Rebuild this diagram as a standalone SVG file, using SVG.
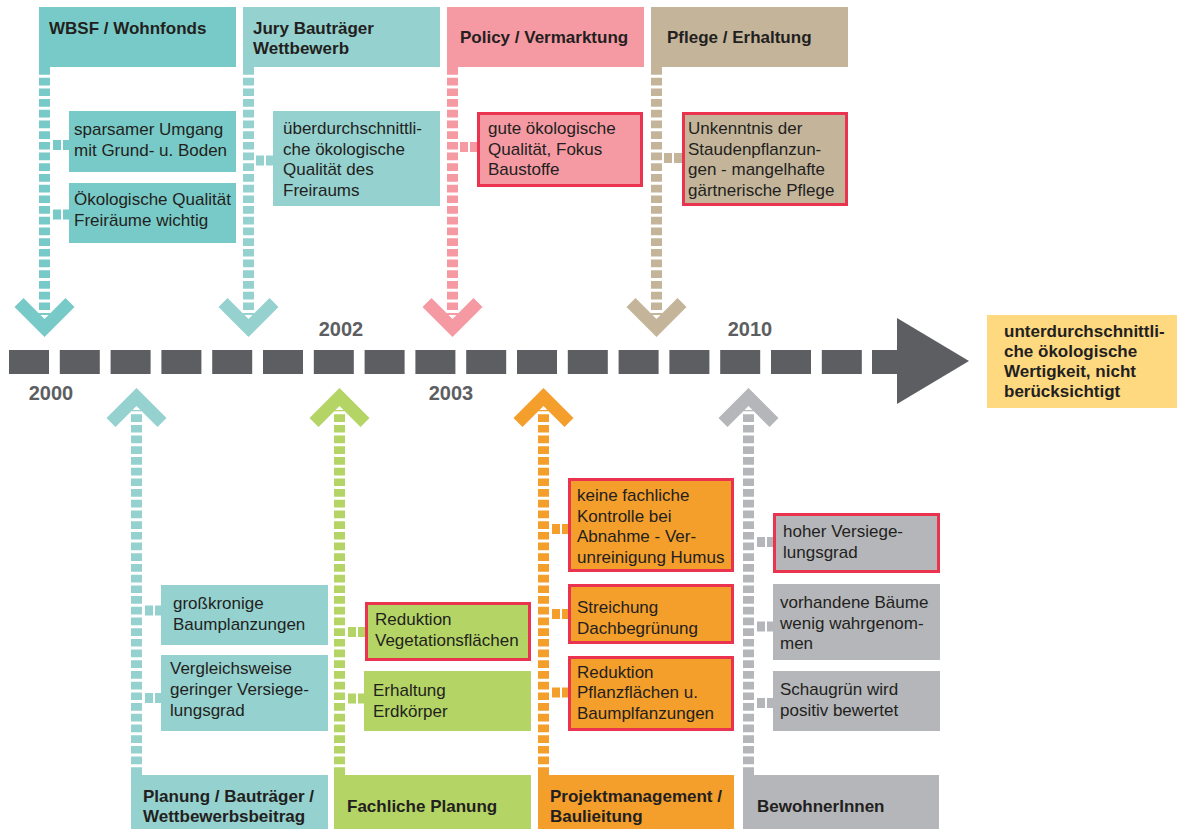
<svg xmlns="http://www.w3.org/2000/svg" width="1177" height="829" viewBox="0 0 1177 829">
<style>
text{font-family:"Liberation Sans",Arial,sans-serif;fill:#231f20}
.h{font-size:17px;font-weight:bold}
.t{font-size:17px}
.yr{font-size:20px;font-weight:bold;fill:#5d5e62}
.red{stroke:#e9334f;stroke-width:3}
.vl{fill:none;stroke-width:11;stroke-dasharray:7.7 3}
.wb{fill:none;stroke:#fff;stroke-width:11}
.st{fill:none;stroke-width:10;stroke-dasharray:8 2}
.c1{fill:#77cac7}.s1{stroke:#77cac7}
.c2{fill:#94d1cf}.s2{stroke:#94d1cf}
.c3{fill:#f599a3}.s3{stroke:#f599a3}
.c4{fill:#c4b59a}.s4{stroke:#c4b59a}
.c5{fill:#b4d565}.s5{stroke:#b4d565}
.c6{fill:#f49e2b}.s6{stroke:#f49e2b}
.c7{fill:#b4b6b9}.s7{stroke:#b4b6b9}
.tl{fill:#5d5e62}
</style>
<rect width="1177" height="829" fill="#fff"/>

<g id="timeline">
<rect class="tl" x="9" y="350" width="40" height="24"/>
<rect class="tl" x="59.8" y="350" width="40" height="24"/>
<rect class="tl" x="110.6" y="350" width="40" height="24"/>
<rect class="tl" x="161.4" y="350" width="40" height="24"/>
<rect class="tl" x="212.2" y="350" width="40" height="24"/>
<rect class="tl" x="263" y="350" width="40" height="24"/>
<rect class="tl" x="313.8" y="350" width="40" height="24"/>
<rect class="tl" x="364.6" y="350" width="40" height="24"/>
<rect class="tl" x="415.4" y="350" width="40" height="24"/>
<rect class="tl" x="466.2" y="350" width="40" height="24"/>
<rect class="tl" x="517" y="350" width="40" height="24"/>
<rect class="tl" x="567.8" y="350" width="40" height="24"/>
<rect class="tl" x="618.6" y="350" width="40" height="24"/>
<rect class="tl" x="669.4" y="350" width="40" height="24"/>
<rect class="tl" x="720.2" y="350" width="40" height="24"/>
<rect class="tl" x="771" y="350" width="40" height="24"/>
<rect class="tl" x="821.8" y="350" width="40" height="24"/>
<rect class="tl" x="872" y="350" width="27" height="24"/>
<polygon class="tl" points="897,318 969,361 897,404"/>
<text class="yr" x="51" y="400" text-anchor="middle">2000</text>
<text class="yr" x="341" y="336" text-anchor="middle">2002</text>
<text class="yr" x="451" y="400" text-anchor="middle">2003</text>
<text class="yr" x="750" y="336" text-anchor="middle">2010</text>
</g>

<g id="connectors">
<!-- top chevrons -->
<polygon class="c1" points="14.5,307 23.5,298 44.5,319 65.5,298 74.5,307 44.5,337"/>
<polygon class="c2" points="218.5,307 227.5,298 248.5,319 269.5,298 278.5,307 248.5,337"/>
<polygon class="c3" points="422.5,307 431.5,298 452.5,319 473.5,298 482.5,307 452.5,337"/>
<polygon class="c4" points="626.5,307 635.5,298 656.5,319 677.5,298 686.5,307 656.5,337"/>
<!-- top vertical lines -->
<path class="wb" d="M44.5 67V315M248.5 67V315M452.5 67V315M656.5 67V315"/>
<path class="vl s1" d="M44.5 67V315"/>
<path class="vl s2" d="M248.5 67V315"/>
<path class="vl s3" d="M452.5 67V315"/>
<path class="vl s4" d="M656.5 67V315"/>
<!-- top stubs -->
<path class="st s1" d="M53 145H69M53 214.5H69"/>
<path class="st s2" d="M256 160.5H273"/>
<path class="st s3" d="M460 147H477"/>
<path class="st s4" d="M664 158H682"/>
<!-- bottom chevrons -->
<polygon class="c2" points="106.5,418 115.5,427 136.5,406 157.5,427 166.5,418 136.5,388"/>
<polygon class="c5" points="309.5,418 318.5,427 339.5,406 360.5,427 369.5,418 339.5,388"/>
<polygon class="c6" points="513.5,418 522.5,427 543.5,406 564.5,427 573.5,418 543.5,388"/>
<polygon class="c7" points="718.5,418 727.5,427 748.5,406 769.5,427 778.5,418 748.5,388"/>
<!-- bottom vertical lines -->
<path class="wb" d="M136.5 775V410M339.5 775V410M543.5 775V410M748.5 775V410"/>
<path class="vl s2" d="M136.5 775V410"/>
<path class="vl s5" d="M339.5 775V410"/>
<path class="vl s6" d="M543.5 775V410"/>
<path class="vl s7" d="M748.5 775V410"/>
<!-- bottom stubs -->
<path class="st s2" d="M145 610.5H161M145 698H161"/>
<path class="st s5" d="M348 632H365M348 698.5H364"/>
<path class="st s6" d="M552 529H568M552 614H568M552 692.5H568"/>
<path class="st s7" d="M757 542H773M757 626.5H773M757 703H773"/>
</g>

<!-- top headers -->
<g id="wbsf"><rect class="c1" x="39" y="7" width="197" height="60"/><text class="h" x="49" y="34">WBSF / Wohnfonds</text></g>
<g id="jury"><rect class="c2" x="243" y="7" width="197" height="60"/><text class="h" x="253" y="34">Jury Bauträger</text><text class="h" x="253" y="54">Wettbewerb</text></g>
<g id="policy"><rect class="c3" x="447" y="7" width="197" height="60"/><text class="h" x="460" y="43">Policy / Vermarktung</text></g>
<g id="pflege"><rect class="c4" x="651" y="7" width="197" height="60"/><text class="h" x="667" y="43">Pflege / Erhaltung</text></g>

<!-- top sub boxes -->
<g id="sparsam"><rect class="c1" x="69" y="111" width="167" height="61"/><text class="t" x="74" y="135">sparsamer Umgang</text><text class="t" x="74" y="156">mit Grund- u. Boden</text></g>
<g id="oekoFrei"><rect class="c1" x="69" y="183" width="167" height="60"/><text class="t" x="74" y="205">Ökologische Qualität</text><text class="t" x="74" y="226">Freiräume wichtig</text></g>
<g id="ueberdurch"><rect class="c2" x="273" y="111" width="167" height="95"/><text class="t" x="283" y="134">überdurchschnittli-</text><text class="t" x="283" y="154.5">che ökologische</text><text class="t" x="283" y="175">Qualität des</text><text class="t" x="283" y="195.5">Freiraums</text></g>
<g id="guteOeko"><rect class="c3 red" x="478.5" y="113.5" width="163" height="72"/><text class="t" x="488" y="134">gute ökologische</text><text class="t" x="488" y="154.5">Qualität, Fokus</text><text class="t" x="488" y="175">Baustoffe</text></g>
<g id="unkenntnis"><rect class="c4 red" x="683.5" y="113.5" width="163" height="91"/><text class="t" x="688" y="134">Unkenntnis der</text><text class="t" x="688" y="154.5">Staudenpflanzun-</text><text class="t" x="688" y="175">gen - mangelhafte</text><text class="t" x="688" y="195.5">gärtnerische Pflege</text></g>

<!-- result -->
<g id="ergebnis"><rect fill="#fed980" x="987" y="315" width="190" height="93"/><text class="h" x="1004" y="337">unterdurchschnittli-</text><text class="h" x="1004" y="357">che ökologische</text><text class="h" x="1004" y="377">Wertigkeit, nicht</text><text class="h" x="1004" y="397">berücksichtigt</text></g>

<!-- bottom sub boxes -->
<g id="grosskronig"><rect class="c2" x="161" y="585" width="167" height="60"/><text class="t" x="173" y="609">großkronige</text><text class="t" x="173" y="630">Baumplanzungen</text></g>
<g id="vergleich"><rect class="c2" x="161" y="655" width="167" height="76"/><text class="t" x="170" y="674">Vergleichsweise</text><text class="t" x="170" y="695">geringer Versiege-</text><text class="t" x="170" y="715.5">lungsgrad</text></g>
<g id="redVeg"><rect class="c5 red" x="366.5" y="603.5" width="163" height="56"/><text class="t" x="375" y="625">Reduktion</text><text class="t" x="375" y="646">Vegetationsflächen</text></g>
<g id="erdkoerper"><rect class="c5" x="364" y="671" width="167" height="60"/><text class="t" x="373" y="696">Erhaltung</text><text class="t" x="373" y="716.5">Erdkörper</text></g>
<g id="keineKontrolle"><rect class="c6 red" x="569.5" y="479.5" width="163" height="91"/><text class="t" x="577" y="501">keine fachliche</text><text class="t" x="577" y="521.5">Kontrolle bei</text><text class="t" x="577" y="542">Abnahme - Ver-</text><text class="t" x="577" y="562.5">unreinigung Humus</text></g>
<g id="dachbegruenung"><rect class="c6 red" x="569.5" y="585.5" width="163" height="57"/><text class="t" x="577" y="613">Streichung</text><text class="t" x="577" y="634">Dachbegrünung</text></g>
<g id="redPflanz"><rect class="c6 red" x="569.5" y="657.5" width="163" height="72"/><text class="t" x="577" y="677.5">Reduktion</text><text class="t" x="577" y="698">Pflanzflächen u.</text><text class="t" x="577" y="718.5">Baumplfanzungen</text></g>
<g id="versiegelung"><rect class="c7 red" x="774.5" y="514.5" width="164" height="57"/><text class="t" x="783" y="537">hoher Versiege-</text><text class="t" x="783" y="557.5">lungsgrad</text></g>
<g id="baeume"><rect class="c7" x="773" y="584" width="167" height="76"/><text class="t" x="780" y="608">vorhandene Bäume</text><text class="t" x="780" y="628.5">wenig wahrgenom-</text><text class="t" x="780" y="649">men</text></g>
<g id="schaugruen"><rect class="c7" x="773" y="671" width="167" height="60"/><text class="t" x="780" y="695">Schaugrün wird</text><text class="t" x="780" y="716">positiv bewertet</text></g>

<!-- bottom headers -->
<g id="planung"><rect class="c2" x="131" y="775" width="197" height="54"/><text class="h" x="143" y="802">Planung / Bauträger /</text><text class="h" x="143" y="822">Wettbewerbsbeitrag</text></g>
<g id="fachlich"><rect class="c5" x="334" y="775" width="197" height="54"/><text class="h" x="347" y="812">Fachliche Planung</text></g>
<g id="projekt"><rect class="c6" x="538" y="775" width="196" height="54"/><text class="h" x="550" y="802">Projektmanagement /</text><text class="h" x="550" y="822">Baulieitung</text></g>
<g id="bewohner"><rect class="c7" x="743" y="775" width="196" height="54"/><text class="h" x="757" y="812">BewohnerInnen</text></g>
</svg>
